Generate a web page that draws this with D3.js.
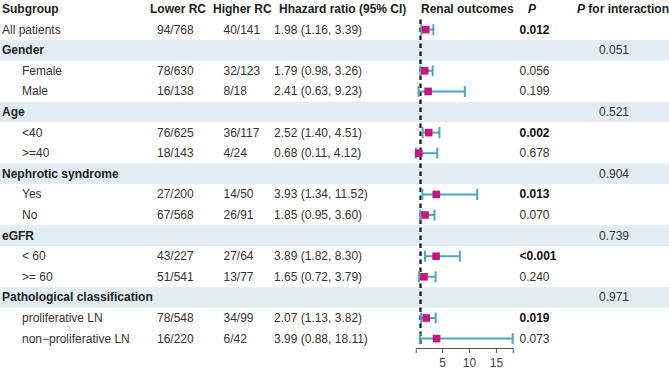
<!DOCTYPE html>
<html>
<head>
<meta charset="utf-8">
<script src="https://cdn.jsdelivr.net/npm/d3@7"></script>
<style>
  body { margin: 0; background: #fff; }
  svg { display: block; font-family: "Liberation Sans", Arial, sans-serif; }
</style>
</head>
<body>
<div id="chart"></div>
<script>
const labels = ["All patients", "Gender", "Female", "Male", "Age", "<40", ">=40",
    "Nephrotic syndrome", "Yes", "No", "eGFR", "< 60", ">= 60",
    "Pathological classification", "proliferative LN", "non\u2212proliferative LN"];
const isGroup = [false, true, false, false, true, false, false, true, false, false, true, false, false, true, false, false];
const lowerRC = ["94/768", "", "78/630", "16/138", "", "76/625", "18/143", "", "27/200", "67/568", "", "43/227", "51/541", "", "78/548", "16/220"];
const higherRC = ["40/141", "", "32/123", "8/18", "", "36/117", "4/24", "", "14/50", "26/91", "", "27/64", "13/77", "", "34/99", "6/42"];
const hr = [1.98, null, 1.79, 2.41, null, 2.52, 0.68, null, 3.93, 1.85, null, 3.89, 1.65, null, 2.07, 3.99];
const ciLow = [1.16, null, 0.98, 0.63, null, 1.40, 0.11, null, 1.34, 0.95, null, 1.82, 0.72, null, 1.13, 0.88];
const ciHigh = [3.39, null, 3.26, 9.23, null, 4.51, 4.12, null, 11.52, 3.60, null, 8.30, 3.79, null, 3.82, 18.11];
const pValues = ["0.012", "", "0.056", "0.199", "", "0.002", "0.678", "", "0.013", "0.070", "", "<0.001", "0.240", "", "0.019", "0.073"];
const pBold = [true, false, false, false, false, true, false, false, true, false, false, true, false, false, true, false];
const pInteraction = ["", "0.051", "", "", "0.521", "", "", "0.904", "", "", "0.739", "", "", "0.971", "", ""];
const xTicks = [5, 10, 15];

const width = 669, height = 372;

const rows = labels.map((d, i) => ({
    i: i, label: d, group: isGroup[i], lower: lowerRC[i], higher: higherRC[i],
    hr: hr[i], lo: ciLow[i], hi: ciHigh[i], p: pValues[i], pb: pBold[i], pint: pInteraction[i]
}));

const svg = d3.select("#chart")
    .append("svg")
    .attr("width", width)
    .attr("height", height);

// row positions: header is row 0
const y = d3.scaleBand()
    .domain(d3.range(labels.length + 1))
    .range([-1.3, -1.3 + 20.6 * (labels.length + 1)])
    .padding(0);
const cy = r => y(r) + y.bandwidth() / 2;

// shaded group rows
svg.selectAll(".band")
    .data(rows.filter(d => d.group))
    .enter()
    .append("rect")
    .attr("x", 0)
    .attr("y", d => y(d.i + 1))
    .attr("width", width)
    .attr("height", y.bandwidth())
    .attr("fill", "#e1edf2");

const textColor = "#333";

// header
const headers = [
    { t: "Subgroup", x: 2, anchor: "start" },
    { t: "Lower RC", x: 150, anchor: "start" },
    { t: "Higher RC", x: 213, anchor: "start" },
    { t: "Hhazard ratio (95% CI)", x: 279, anchor: "start" },
    { t: "Renal outcomes", x: 421, anchor: "start" }
];
svg.selectAll(".hdr")
    .data(headers)
    .enter()
    .append("text")
    .attr("x", d => d.x)
    .attr("y", cy(0) + 4)
    .attr("text-anchor", d => d.anchor)
    .style("font-size", "12px")
    .style("font-weight", "bold")
    .style("fill", "#222")
    .text(d => d.t);

svg.append("text")
    .attr("x", 528)
    .attr("y", cy(0) + 4)
    .style("font-size", "12px")
    .style("font-weight", "bold")
    .style("font-style", "italic")
    .style("fill", "#222")
    .text("P");

const pint = svg.append("text")
    .attr("x", 577)
    .attr("y", cy(0) + 4)
    .style("font-size", "12px")
    .style("font-weight", "bold")
    .style("fill", "#222");
pint.append("tspan").style("font-style", "italic").text("P");
pint.append("tspan").text(" for interaction");

// subgroup labels
svg.selectAll(".lab")
    .data(rows)
    .enter()
    .append("text")
    .attr("x", d => d.group || d.i === 0 ? 2 : 22)
    .attr("y", d => cy(d.i + 1) + 4)
    .style("font-size", "12px")
    .style("font-weight", d => d.group ? "bold" : "normal")
    .style("fill", d => d.group ? "#222" : textColor)
    .text(d => d.label);

const cols = [
    { key: "lower", x: 157 },
    { key: "higher", x: 223.5 }
];
cols.forEach(c => {
    svg.selectAll(".c-" + c.key)
        .data(rows.filter(d => d[c.key] !== ""))
        .enter()
        .append("text")
        .attr("x", c.x)
        .attr("y", d => cy(d.i + 1) + 4)
        .style("font-size", "12px")
        .style("fill", textColor)
        .text(d => d[c.key]);
});

const fmt = d3.format(".2f");
svg.selectAll(".hrtxt")
    .data(rows.filter(d => d.hr !== null))
    .enter()
    .append("text")
    .attr("x", 274)
    .attr("y", d => cy(d.i + 1) + 4)
    .style("font-size", "12px")
    .style("fill", textColor)
    .text(d => `${fmt(d.hr)} (${fmt(d.lo)}, ${fmt(d.hi)})`);

svg.selectAll(".ptxt")
    .data(rows.filter(d => d.p !== ""))
    .enter()
    .append("text")
    .attr("x", 519.5)
    .attr("y", d => cy(d.i + 1) + 4)
    .style("font-size", "12px")
    .style("font-weight", d => d.pb ? "bold" : "normal")
    .style("fill", d => d.pb ? "#111" : textColor)
    .text(d => d.p);

svg.selectAll(".pinttxt")
    .data(rows.filter(d => d.pint !== ""))
    .enter()
    .append("text")
    .attr("x", 599)
    .attr("y", d => cy(d.i + 1) + 4)
    .style("font-size", "12px")
    .style("fill", textColor)
    .text(d => d.pint);

// forest plot
const plotRows = rows.filter(d => d.hr !== null);
const x = d3.scaleLinear()
    .domain([d3.min(ciLow.filter(v => v !== null)), d3.max(ciHigh.filter(v => v !== null))])
    .range([415.7, 512.7]);

const axisY = 348;

svg.append("line")
    .attr("x1", x(1))
    .attr("x2", x(1))
    .attr("y1", cy(1) - 10)
    .attr("y2", axisY - 3)
    .attr("stroke", "#111")
    .attr("stroke-width", 2.2)
    .attr("stroke-dasharray", "4.5,3.5");

const ciColor = "#48a9be";
const ci = svg.selectAll(".ci")
    .data(plotRows)
    .enter()
    .append("g");

ci.append("line")
    .attr("x1", d => x(d.lo))
    .attr("x2", d => x(d.hi))
    .attr("y1", d => cy(d.i + 1))
    .attr("y2", d => cy(d.i + 1))
    .attr("stroke", ciColor)
    .attr("stroke-width", 2);

[d => d.lo, d => d.hi].forEach(f => {
    ci.append("line")
        .attr("x1", d => x(f(d)))
        .attr("x2", d => x(f(d)))
        .attr("y1", d => cy(d.i + 1) - 5.5)
        .attr("y2", d => cy(d.i + 1) + 5.5)
        .attr("stroke", ciColor)
        .attr("stroke-width", 2);
});

ci.append("rect")
    .attr("x", d => x(d.hr) - 3.8)
    .attr("y", d => cy(d.i + 1) - 3.8)
    .attr("width", 7.6)
    .attr("height", 7.6)
    .attr("fill", "#c8157f");

svg.append("g")
    .attr("transform", `translate(0,${axisY})`)
    .call(d3.axisBottom(x).tickValues(xTicks).tickSizeOuter(0).tickSize(5))
    .call(g => g.select(".domain").attr("stroke", "#555"))
    .call(g => g.selectAll(".tick line").attr("stroke", "#555"))
    .call(g => g.selectAll(".tick text")
        .style("font-size", "12px")
        .style("font-family", "Liberation Sans, Arial, sans-serif")
        .attr("fill", "#444")
        .attr("dy", "0.9em"));
</script>
</body>
</html>
